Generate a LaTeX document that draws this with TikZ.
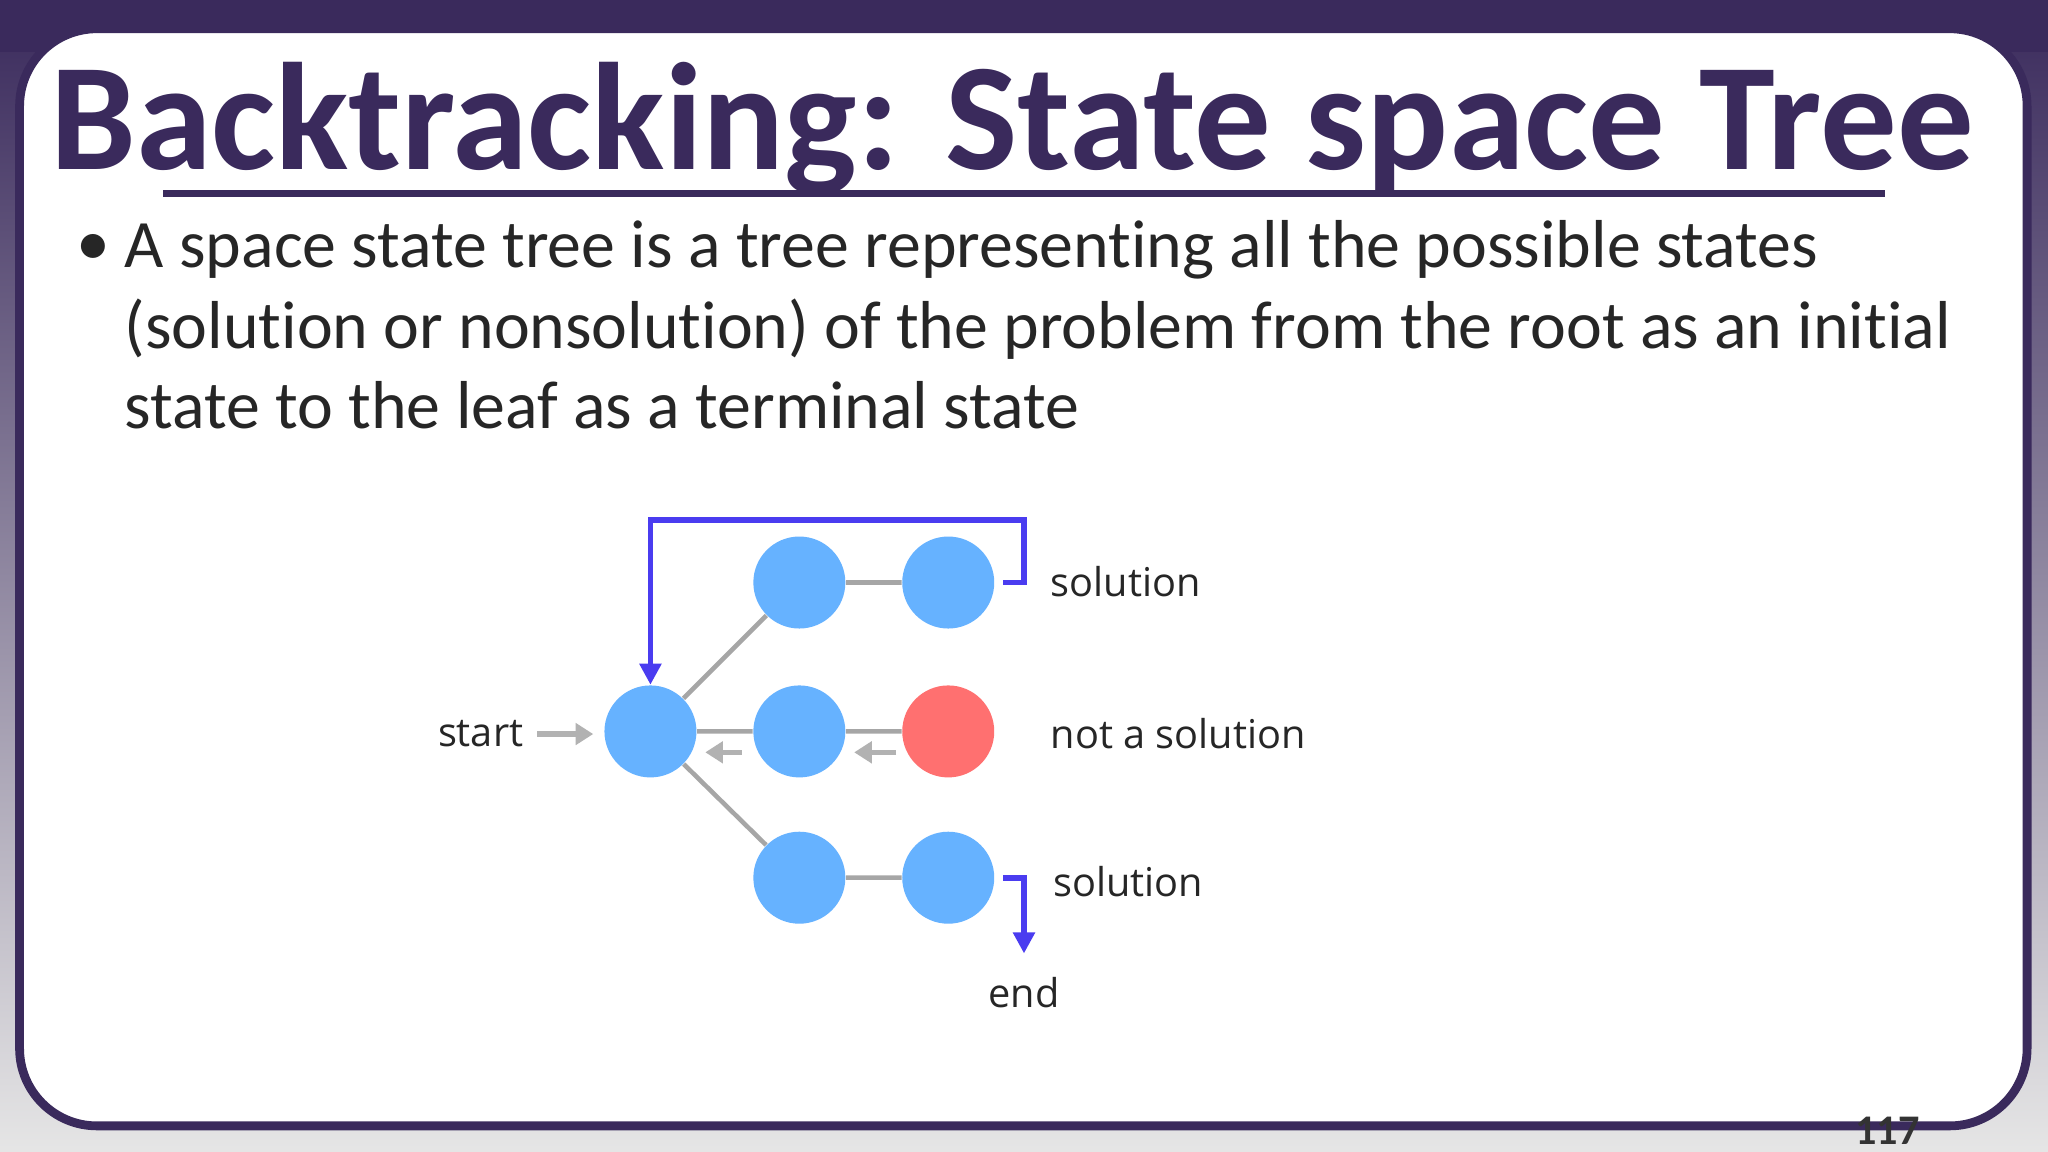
\documentclass[tikz,border=0pt]{standalone}
\usepackage{fontspec}
\setmainfont[Ligatures=NoCommon]{Carlito}
\newfontfamily\labelfont{Open Sans}
\usetikzlibrary{arrows.meta}
\definecolor{framepurple}{HTML}{3A2A5C}
\definecolor{nodeblue}{HTML}{66B2FF}
\definecolor{nodered}{HTML}{FF7070}
\definecolor{linkblue}{HTML}{4A3CF0}
\begin{document}
\begin{tikzpicture}[x=0.01306cm,y=-0.01306cm,
  state/.style={circle,fill=nodeblue,minimum size=0.92cm,inner sep=0pt},
  bad/.style={state,fill=nodered},
  link/.style={draw=gray!70,line width=1.3pt},
  back/.style={gray!60,line width=1.5pt,-{Triangle[length=5pt,width=6pt]}},
  jump/.style={linkblue,line width=1.6pt},
  lbl/.style={font=\labelfont\fontsize{11.3}{14}\selectfont,text=black!85,inner sep=0pt}]
\useasboundingbox (0,0) rectangle (1568,882);
\shade[top color=framepurple,bottom color=gray!20] (0,0) rectangle (1568,882);
\fill[framepurple] (0,0) rectangle (1568,40);
\draw[framepurple,line width=2.5pt,fill=white,rounded corners=22pt] (15,22) rectangle (1552,862);
% title
\node[anchor=base west,inner sep=0pt,text=framepurple,font=\bfseries\fontsize{43.5}{48}\selectfont] (title) at (38,130) {Backtracking: State space Tree};
\draw[framepurple,line width=2pt] (125,148) -- (1443,148);
\node[anchor=base west,inner sep=0pt,font=\fontsize{19.3}{23}\selectfont,text=black!85] (bul) at (58,203) {\textbullet};
\node[anchor=north west,inner sep=0pt,align=left,font=\fontsize{19.3}{23}\selectfont,text=black!85] (body) at (95,168)
  {A space state tree is a tree representing all the possible states\\(solution or nonsolution) of the problem from the root as an initial\\state to the leaf as a terminal state};
% tree
\node[state] (root) at (498,560) {};
\node[state] (t1) at (612,446) {};
\node[state] (t2) at (726,446) {};
\node[state] (m1) at (612,560) {};
\node[bad] (m2) at (726,560) {};
\node[state] (b1) at (612,672) {};
\node[state] (b2) at (726,672) {};
\draw[link] (root) -- (t1) (t1) -- (t2) (root) -- (m1) (m1) -- (m2) (root) -- (b1) (b1) -- (b2);
\node[lbl,anchor=west] (sol1) at (804,445) {solution};
\node[lbl,anchor=west] (nos) at (804,562) {not a solution};
\node[lbl,anchor=west] (sol2) at (806,675) {solution};
\node[lbl] (endl) at (784,760) {end};
\node[lbl] (startl) at (368,562) {start};
\coordinate (endtip) at (784,730);
\draw[back] (startl.east) ++(10,0) -- ++(43,0);
\draw[back] (568,576) -- (540,576);
\draw[back] (686,576) -- (654,576);
\draw[jump,-{Triangle[length=6pt,width=6pt]}] (768,446) -| (784,398) -| (root.north);
\draw[jump,-{Triangle[length=6pt,width=6pt]}] (768,672) -| (endtip);
\node[font=\bfseries\fontsize{12}{14}\selectfont,text=black!80] (page) at (1445,866) {117};
\end{tikzpicture}
\end{document}
